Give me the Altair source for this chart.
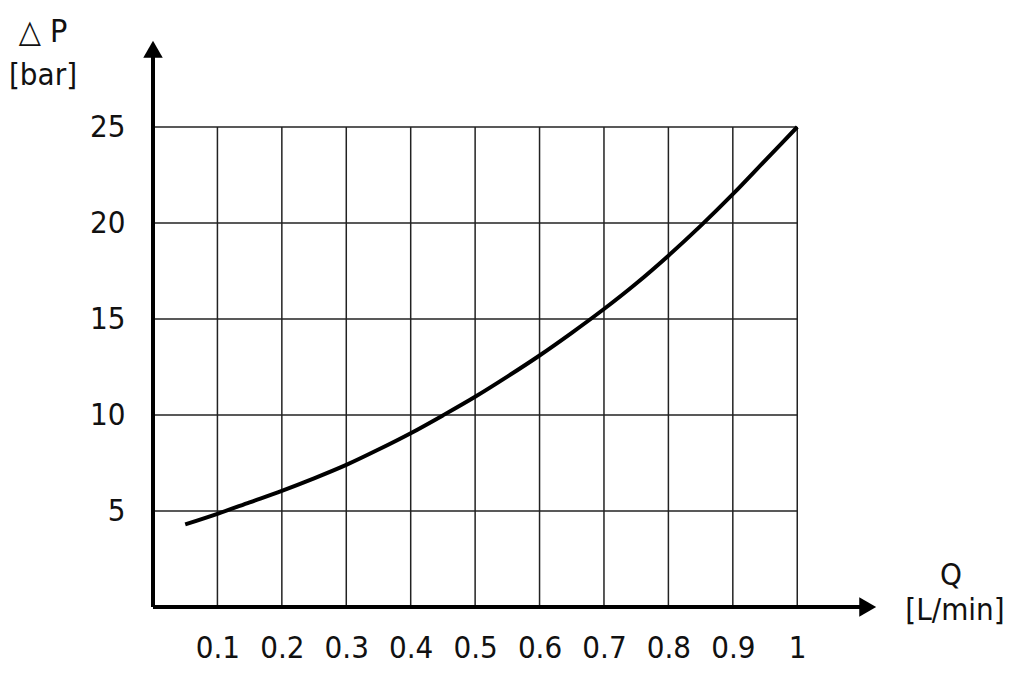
import altair as alt
import pandas as pd

# Curve data
q_vals = [0.05, 0.1, 0.15, 0.2, 0.25, 0.3, 0.35, 0.4, 0.45, 0.5, 0.55, 0.6,
          0.65, 0.7, 0.75, 0.8, 0.85, 0.9, 0.95, 1.0]
dp_vals = [4.3, 4.85, 5.45, 6.05, 6.7, 7.4, 8.2, 9.05, 9.98, 10.95, 12.0, 13.1,
           14.28, 15.52, 16.85, 18.3, 19.85, 21.5, 23.25, 25.0]

x_ticks = [0.1, 0.2, 0.3, 0.4, 0.5, 0.6, 0.7, 0.8, 0.9, 1.0]
y_ticks = [5, 10, 15, 20, 25]
x_max, y_max = 1.0, 25
x_arrow, y_arrow = 1.13, 29.8

FONT = "DejaVu Sans Condensed, DejaVu Sans, sans-serif"
LBL = 31

curve = pd.DataFrame({"Q": q_vals, "dP": dp_vals})
vgrid = pd.DataFrame({"x": x_ticks, "y0": [0] * len(x_ticks), "y1": [y_max] * len(x_ticks)})
hgrid = pd.DataFrame({"y": y_ticks, "x0": [0] * len(y_ticks), "x1": [x_max] * len(y_ticks)})
axes_df = pd.DataFrame({"x0": [0, 0], "x1": [x_arrow - 0.03, 0], "y0": [0, 0], "y1": [0, y_arrow - 1.0]})
arrows = pd.DataFrame({"x": [x_arrow - 0.025, 0], "y": [0, y_arrow - 0.9], "a": [90, 0]})

xs = alt.Scale(domain=[0, x_arrow], nice=False, zero=False)
ys = alt.Scale(domain=[0, 30], nice=False, zero=False)

xaxis = alt.Axis(values=x_ticks, domain=False, ticks=False, grid=False, title=None,
                 labelFontSize=LBL, labelFont=FONT, labelColor="#111", labelPadding=26,
                 labelExpr="datum.value == 1 ? '1' : format(datum.value, '.1f')")
yaxis = alt.Axis(values=y_ticks, domain=False, ticks=False, grid=False, title=None,
                 labelFontSize=LBL, labelFont=FONT, labelColor="#111", labelPadding=28)

vg = alt.Chart(vgrid).mark_rule(color="#222", strokeWidth=1.5).encode(
    x=alt.X("x:Q", scale=xs, axis=xaxis),
    y=alt.Y("y0:Q", scale=ys, axis=yaxis), y2="y1:Q")
hg = alt.Chart(hgrid).mark_rule(color="#222", strokeWidth=1.5).encode(
    y=alt.Y("y:Q", scale=ys), x=alt.X("x0:Q", scale=xs), x2="x1:Q")
ax = alt.Chart(axes_df).mark_rule(color="black", strokeWidth=4).encode(
    x=alt.X("x0:Q", scale=xs), x2="x1:Q", y=alt.Y("y0:Q", scale=ys), y2="y1:Q")
arr = alt.Chart(arrows).mark_point(shape="triangle", filled=True, color="black",
                                   opacity=1, size=380).encode(
    x=alt.X("x:Q", scale=xs), y=alt.Y("y:Q", scale=ys), angle=alt.Angle("a:Q", scale=None))
line = alt.Chart(curve).mark_line(color="black", strokeWidth=4, interpolate="monotone").encode(
    x=alt.X("Q:Q", scale=xs), y=alt.Y("dP:Q", scale=ys))

def label(txt, px, py, size=LBL):
    return alt.Chart(pd.DataFrame({"t": [txt]})).mark_text(
        font=FONT, fontSize=size, color="#111", align="center", baseline="middle").encode(
        text="t:N", x=alt.value(px), y=alt.value(py))

titles = (label("△ P", 43 - 153, 32 - 31, 32) + label("[bar]", 43 - 153, 76 - 31, 31)
          + label("Q", 951 - 153, 576 - 31) + label("[L/min]", 955 - 153, 611 - 31))

chart = alt.layer(vg, hg, line, ax, arr, titles).properties(
    width=728, height=576,
    autosize=alt.AutoSizeParams(type="none"),
    padding={"left": 145, "top": 23, "right": 135, "bottom": 60},
    background="white",
).configure_view(strokeWidth=0, stroke=None)

chart.save("out.html", embed_options={"renderer": "svg", "actions": False})
